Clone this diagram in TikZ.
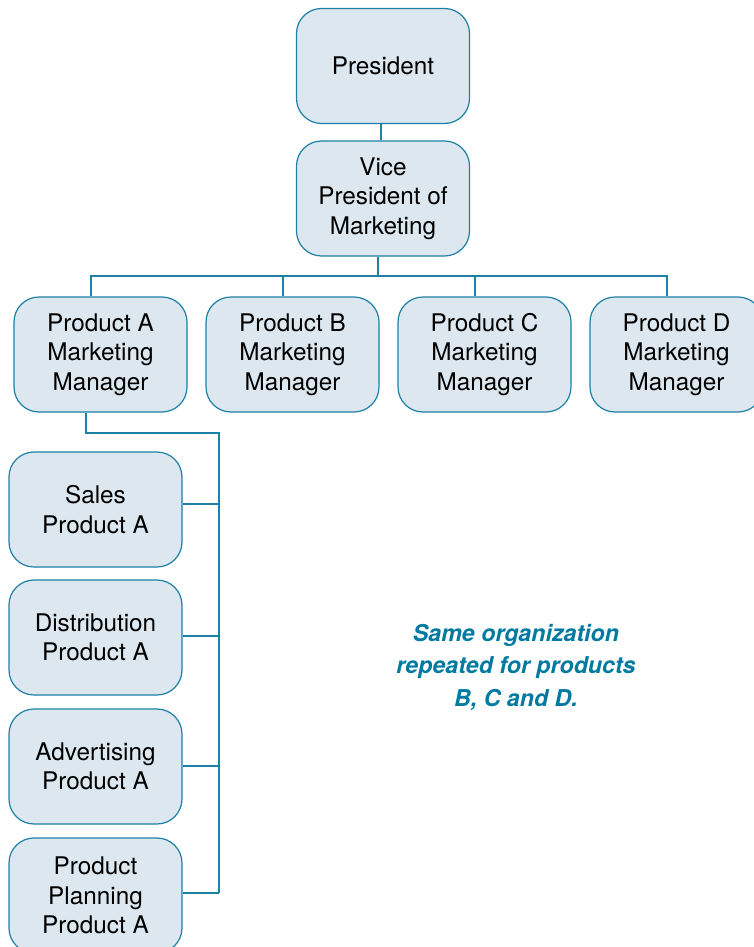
\documentclass[tikz,border=0pt]{standalone}
\usepackage{fontspec}
\setmainfont{TeX Gyre Heros}
\definecolor{boxfill}{RGB}{220,231,239}
\definecolor{boxline}{RGB}{30,128,165}
\definecolor{notecol}{RGB}{0,122,160}
\begin{document}
\begin{tikzpicture}[x=1pt,y=-1pt,
  orgbox/.style={draw=boxline, fill=boxfill, line width=1.2pt, rounded corners=25pt,
    minimum width=173pt, minimum height=115pt, align=center, inner sep=0pt,
    font=\fontsize{24.3}{29.5}\selectfont},
  link/.style={draw=boxline, line width=1.2pt}]
\useasboundingbox (0,0) rectangle (753,947);
\node[orgbox] (pres) at (383,66) {President};
\node[orgbox] (vp) at (383,198.5) {Vice\\President of\\Marketing};
\node[orgbox] (pa) at (100.5,354.5) {Product A\\Marketing\\Manager};
\node[orgbox] (pb) at (292.5,354.5) {Product B\\Marketing\\Manager};
\node[orgbox] (pc) at (484.5,354.5) {Product C\\Marketing\\Manager};
\node[orgbox] (pd) at (676.5,354.5) {Product D\\Marketing\\Manager};
\node[orgbox] (sa) at (95.5,509.5) {Sales\\Product A};
\node[orgbox] (di) at (95.5,637.5) {Distribution\\Product A};
\node[orgbox] (ad) at (95.5,766.5) {Advertising\\Product A};
\node[orgbox] (pp) at (95.5,895.5) {Product\\Planning\\Product A};
\node[text=notecol, align=center, font=\fontsize{23.2}{32.5}\selectfont\bfseries\itshape] (note) at (516,667) {Same organization\\repeated for products\\B, C and D.};
% connectors
\draw[link] ([xshift=-2pt]pres.south) -- ([xshift=-2pt]vp.north);
\coordinate (bar) at (378,276);
\draw[link] ([xshift=-5pt]vp.south) -- (bar);
\draw[link] ([xshift=-9.5pt]pa.north) |- (bar) -| ([xshift=-9.5pt]pd.north);
\draw[link] ([xshift=-9.5pt]pb.north) -- ++(0,-21);
\draw[link] ([xshift=-9.5pt]pc.north) -- ++(0,-21);
\coordinate (trunk) at (219,433);
\coordinate (trunkend) at (219,893);
\draw[link] ([xshift=-14.5pt]pa.south) |- (trunk) -- (trunkend);
\draw[link] ([yshift=5.5pt]sa.east) -- (219,504);
\draw[link] ([yshift=1.5pt]di.east) -- (219,636);
\draw[link] ([yshift=0.5pt]ad.east) -- (219,766);
\draw[link] ([yshift=2.5pt]pp.east) -- (trunkend);
\end{tikzpicture}
\end{document}
